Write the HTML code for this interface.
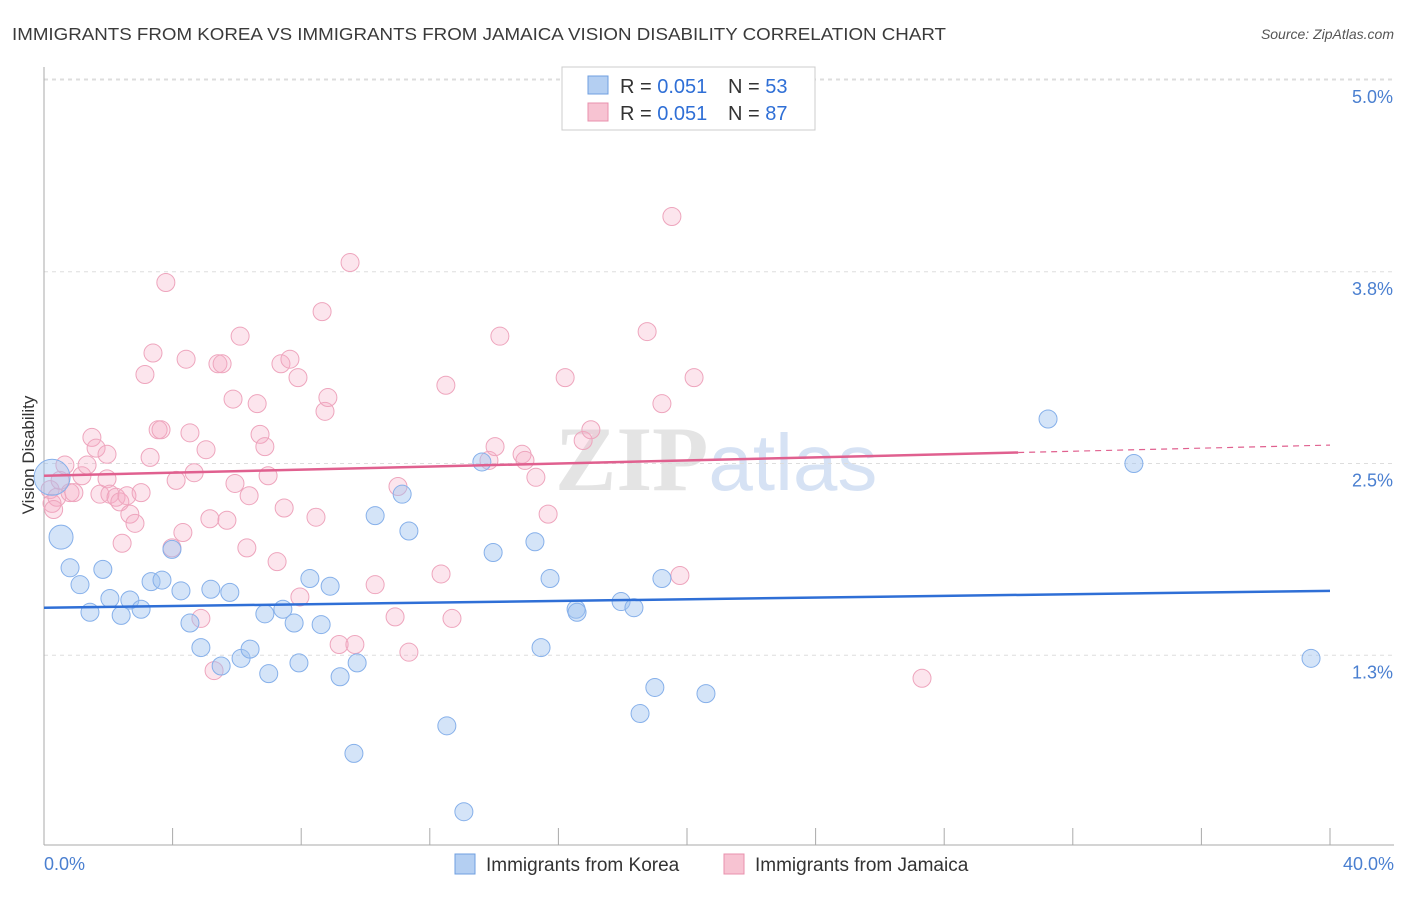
<!DOCTYPE html>
<html><head><meta charset="utf-8"><style>
body{margin:0;background:#fff;font-family:"Liberation Sans",sans-serif}
</style></head><body>
<svg id="chart" width="1406" height="892" xmlns="http://www.w3.org/2000/svg" style="font-family:'Liberation Sans',sans-serif">
<text x="12" y="40" font-size="17.5" fill="#3a3a3a" textLength="934" lengthAdjust="spacingAndGlyphs">IMMIGRANTS FROM KOREA VS IMMIGRANTS FROM JAMAICA VISION DISABILITY CORRELATION CHART</text>
<text x="1394" y="39" font-size="14" fill="#555" font-style="italic" text-anchor="end">Source: ZipAtlas.com</text>
<text x="555" y="490" font-size="92" fill="#e4e4e4" font-family="Liberation Serif" font-weight="bold">ZIP<tspan fill="#d6e2f4" font-family="Liberation Sans" font-weight="normal" font-size="80">atlas</tspan></text>
<g id="grid"></g><g id="axes"></g><g id="marks"></g>
<text transform="translate(34,455) rotate(-90)" font-size="17" fill="#333" text-anchor="middle">Vision Disability</text>
<g>
<rect x="562" y="67" width="253" height="63" fill="#fff" stroke="#ccc"/>
<rect x="588" y="76" width="20" height="18" fill="#b4cff2" stroke="#6f9fe0"/>
<rect x="588" y="103" width="20" height="18" fill="#f7c3d2" stroke="#e890ad"/>
<text x="620" y="93" font-size="20" fill="#333">R = <tspan fill="#2f6fd6">0.051</tspan></text>
<text x="728" y="93" font-size="20" fill="#333">N = <tspan fill="#2f6fd6">53</tspan></text>
<text x="620" y="120" font-size="20" fill="#333">R = <tspan fill="#2f6fd6">0.051</tspan></text>
<text x="728" y="120" font-size="20" fill="#333">N = <tspan fill="#2f6fd6">87</tspan></text>
</g>
<g>
<rect x="455" y="854" width="20" height="20" fill="#b4cff2" stroke="#6f9fe0"/>
<text x="486" y="871" font-size="19" fill="#333">Immigrants from Korea</text>
<rect x="724" y="854" width="20" height="20" fill="#f7c3d2" stroke="#e890ad"/>
<text x="755" y="871" font-size="19" fill="#333">Immigrants from Jamaica</text>
</g>
</svg>
<script>
const yTicks=[1.25,2.5,3.75,5.0];
const yTickLabels=["1.3%","2.5%","3.8%","5.0%"];
const xTicks=[0,4,8,12,16,20,24,28,32,36,40];
const koreaX=[0.25,0.53,0.81,1.12,1.43,1.83,2.05,2.40,2.67,3.02,3.33,3.67,3.98,4.26,4.54,4.88,5.19,5.51,5.78,6.13,6.41,6.87,6.99,7.43,7.78,7.93,8.27,8.62,8.90,9.21,9.64,9.74,10.30,11.14,11.35,12.53,13.06,13.62,13.97,15.27,15.46,15.74,16.55,16.58,17.95,18.35,18.54,19.00,19.22,20.59,31.23,33.90,39.41];
const koreaY=[2.41,2.02,1.82,1.71,1.53,1.81,1.62,1.51,1.61,1.55,1.73,1.74,1.94,1.67,1.46,1.30,1.68,1.18,1.66,1.23,1.29,1.52,1.13,1.55,1.46,1.20,1.75,1.45,1.70,1.11,0.61,1.20,2.16,2.30,2.06,0.79,0.23,2.51,1.92,1.99,1.30,1.75,1.55,1.53,1.60,1.56,0.87,1.04,1.75,1.00,2.79,2.50,1.23];
const koreaR=[18,12,9,9,9,9,9,9,9,9,9,9,9,9,9,9,9,9,9,9,9,9,9,9,9,9,9,9,9,9,9,9,9,9,9,9,9,9,9,9,9,9,9,9,9,9,9,9,9,9,9,9,9];
const jamX=[0.19,0.25,0.40,0.50,0.65,0.81,0.93,1.18,1.34,1.49,1.62,1.74,1.96,1.96,2.05,2.24,2.36,2.43,2.58,2.67,2.83,3.02,3.14,3.30,3.39,3.55,3.64,3.79,3.98,4.11,4.32,4.42,4.54,4.67,4.88,5.04,5.16,5.29,5.41,5.54,5.69,5.88,5.94,6.10,6.31,6.38,6.63,6.72,6.87,6.97,7.25,7.37,7.47,7.65,7.90,7.96,8.46,8.65,8.74,8.83,9.18,9.52,9.67,10.30,10.92,11.01,11.35,12.35,12.50,12.69,13.84,14.03,14.18,14.87,14.96,15.30,15.68,16.21,16.77,17.01,18.76,19.22,19.53,19.78,20.22,27.31,0.30];
const jamY=[2.33,2.24,2.28,2.39,2.49,2.31,2.31,2.42,2.49,2.67,2.60,2.30,2.40,2.56,2.30,2.28,2.25,1.98,2.29,2.17,2.11,2.31,3.08,2.54,3.22,2.72,2.72,3.68,1.95,2.39,2.05,3.18,2.70,2.44,1.49,2.59,2.14,1.15,3.15,3.15,2.13,2.92,2.37,3.33,1.95,2.29,2.89,2.69,2.61,2.42,1.86,3.15,2.21,3.18,3.06,1.63,2.15,3.49,2.84,2.93,1.32,3.81,1.32,1.71,1.50,2.35,1.27,1.78,3.01,1.49,2.52,2.61,3.33,2.56,2.52,2.41,2.17,3.06,2.65,2.72,3.36,2.89,4.11,1.77,3.06,1.10,2.20];
const koreaTrend=[1.56,1.67];
const jamTrend=[2.42,2.62];
const X0=44,X1=1330,Y0=847;
const sx=v=>X0+(v/40)*(X1-X0);
const sy=v=>Y0-v*153.4;
const NS="http://www.w3.org/2000/svg";
function mk(t,a,p){const e=document.createElementNS(NS,t);for(const k in a)e.setAttribute(k,a[k]);p.appendChild(e);return e;}
const grid=document.getElementById('grid'),axes=document.getElementById('axes'),marks=document.getElementById('marks');
yTicks.forEach((v,i)=>{
 const l=mk('line',{x1:44,x2:1394,y1:sy(v),y2:sy(v),stroke:'#ddd','stroke-dasharray':'4,4'},grid);
 
 
 const t=mk('text',{x:1393,y:sy(v)+23,'font-size':18,fill:'#4a7fd0','text-anchor':'end'},axes);
 t.textContent=yTickLabels[i];
 
 
});
const topGrid=mk('line',{x1:44,x2:1394,y1:79,y2:79,stroke:'#ddd','stroke-dasharray':'4,4'},grid);


const ya=mk('line',{x1:44,x2:44,y1:67,y2:845,stroke:'#aaa'},axes);


const xa=mk('line',{x1:44,x2:1394,y1:845,y2:845,stroke:'#aaa'},axes);


xTicks.forEach(v=>{const l=mk('line',{x1:sx(v),x2:sx(v),y1:828,y2:845,stroke:'#aaa'},axes);
 
 });
const xl0=mk('text',{x:44,y:870,'font-size':18,fill:'#4a7fd0'},axes);xl0.textContent='0.0%';


const xl1=mk('text',{x:1394,y:870,'font-size':18,fill:'#4a7fd0','text-anchor':'end'},axes);xl1.textContent='40.0%';


jamX.forEach((x,i)=>{const c=mk('circle',{cx:sx(x),cy:sy(jamY[i]),r:9,fill:'rgba(244,170,195,0.3)',stroke:'#eea5bd','stroke-width':1},marks);
 
 });
koreaX.forEach((x,i)=>{const c=mk('circle',{cx:sx(x),cy:sy(koreaY[i]),r:koreaR[i],fill:'rgba(160,195,240,0.45)',stroke:'#86b0ea','stroke-width':1},marks);
 
 });
const kt=mk('line',{x1:sx(0),y1:sy(koreaTrend[0]),x2:sx(40),y2:sy(koreaTrend[1]),stroke:'#2f6fd6','stroke-width':2.5},marks);


const jm=jamTrend[0]+(jamTrend[1]-jamTrend[0])*(30.3/40);
const jt=mk('line',{x1:sx(0),y1:sy(jamTrend[0]),x2:sx(30.3),y2:sy(jm),stroke:'#e0608f','stroke-width':2.5},marks);


const jd=mk('line',{x1:sx(30.3),y1:sy(jm),x2:sx(40),y2:sy(jamTrend[1]),stroke:'#e0608f','stroke-width':1.2,'stroke-dasharray':'6,5'},marks);


</script>
</body></html>
